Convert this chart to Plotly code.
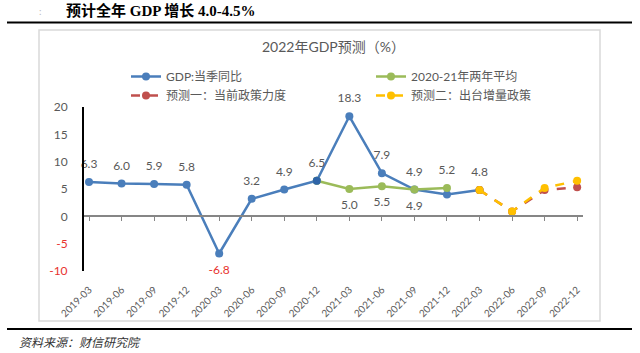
import plotly.graph_objects as go

categories = ["2019-03", "2019-06", "2019-09", "2019-12", "2020-03", "2020-06", "2020-09", "2020-12",
              "2021-03", "2021-06", "2021-09", "2021-12", "2022-03", "2022-06", "2022-09", "2022-12"]

gdp_x = categories[:13]
gdp_y = [6.3, 6.0, 5.9, 5.8, -6.8, 3.2, 4.9, 6.5, 18.3, 7.9, 4.9, 4.0, 4.8]
gdp_labels = ["6.3", "6.0", "5.9", "5.8", "-6.8", "3.2", "4.9", "6.5", "18.3", "7.9", "4.9", "", "4.8"]

avg_x = categories[7:12]
avg_y = [6.5, 5.0, 5.5, 4.9, 5.2]
avg_labels = ["", "5.0", "5.5", "4.9", "5.2"]

f1_x = categories[12:]
f1_y = [4.8, 0.9, 4.8, 5.3]

f2_x = categories[12:]
f2_y = [4.8, 0.9, 5.2, 6.5]

y_ticks = [20, 15, 10, 5, 0, -5, -10]

BLUE = "#4A7EBB"
DARKBLUE = "#2E64A8"
GREEN = "#9BBB59"
RED = "#C0504D"
YELLOW = "#FFC000"
GRAY = "#595959"
LABELRED = "#E8322E"
FONT = "Lato, Noto Sans CJK SC, sans-serif"

# plot area in pixels
W, H = 640, 353
L, R, T, B = 84, 583, 107, 271


def px(x):
    return (x - L) / (R - L)


def py(y):
    return (B - y) / (B - T)


fig = go.Figure()

fig.add_trace(go.Scatter(
    x=gdp_x, y=gdp_y, name="GDP:当季同比", mode="lines+markers",
    line=dict(color=BLUE, width=2.5), marker=dict(color=BLUE, size=8),
    hoverinfo="skip"))
fig.add_trace(go.Scatter(
    x=avg_x, y=avg_y, name="2020-21年两年平均", mode="lines+markers",
    line=dict(color=GREEN, width=2.5), marker=dict(color=GREEN, size=8),
    hoverinfo="skip"))
# the joining point (2020-12) is drawn in dark blue
fig.add_trace(go.Scatter(
    x=avg_x[:1], y=avg_y[:1], mode="markers", marker=dict(color=DARKBLUE, size=8),
    showlegend=False, hoverinfo="skip"))
fig.add_trace(go.Scatter(
    x=f1_x, y=f1_y, name="预测一：当前政策力度", mode="lines+markers",
    line=dict(color=RED, width=2.5, dash="dash"), marker=dict(color=RED, size=8),
    hoverinfo="skip"))
fig.add_trace(go.Scatter(
    x=f2_x, y=f2_y, name="预测二：出台增量政策", mode="lines+markers",
    line=dict(color=YELLOW, width=2.5, dash="dash"), marker=dict(color=YELLOW, size=8),
    hoverinfo="skip"))

# data labels
fig.add_trace(go.Scatter(
    x=gdp_x, y=gdp_y, mode="markers+text", text=gdp_labels, cliponaxis=False,
    textposition=["bottom center" if v < 0 else "top center" for v in gdp_y],
    textfont=dict(family=FONT, size=12, color=[LABELRED if v < 0 else GRAY for v in gdp_y]),
    marker=dict(size=16, color="rgba(0,0,0,0)"), showlegend=False, hoverinfo="skip"))
fig.add_trace(go.Scatter(
    x=avg_x, y=avg_y, mode="markers+text", text=avg_labels, cliponaxis=False,
    textposition=["bottom center", "bottom center", "bottom center", "bottom center", "top center"],
    textfont=dict(family=FONT, size=12, color=GRAY),
    marker=dict(size=16, color="rgba(0,0,0,0)"), showlegend=False, hoverinfo="skip"))

# helper trace for the zero-line axis with tick marks
fig.add_trace(go.Scatter(x=categories, y=[None] * len(categories), xaxis="x2",
                         showlegend=False, hoverinfo="skip", mode="lines"))

rng = [-0.154, 15.18]

ticktext = [f"<span style='color:{LABELRED}'>{v}</span>" if v < 0 else str(v) for v in y_ticks]

fig.update_layout(
    width=W, height=H,
    margin=dict(l=L, r=W - R, t=T, b=H - B),
    paper_bgcolor="white", plot_bgcolor="white",
    font=dict(family=FONT, color=GRAY, size=12),
    title=dict(text="2022年GDP预测（%）", x=320 / W, xanchor="center", xref="paper",
               y=1 - 47 / H, yref="container", yanchor="middle",
               font=dict(family=FONT, size=14, color=GRAY)),
    xaxis=dict(type="category", categoryorder="array", categoryarray=categories, range=rng,
               showline=False, showgrid=False, zeroline=False, ticks="",
               tickangle=-45, tickfont=dict(size=10, color=GRAY), ticklabelstandoff=10),
    xaxis2=dict(type="category", categoryorder="array", categoryarray=categories, range=rng,
                overlaying="x", anchor="free", position=1 / 3, side="bottom",
                showline=True, linecolor="#868686", linewidth=1.5,
                ticks="outside", ticklen=4, tickcolor="#868686", tickwidth=1.2,
                showticklabels=False, showgrid=False, zeroline=False),
    yaxis=dict(range=[-10, 20], tickvals=y_ticks, ticktext=ticktext,
               showline=True, linecolor="black", linewidth=2, ticks="",
               showgrid=False, zeroline=False, tickfont=dict(size=12, color=GRAY),
               ticklabelstandoff=12),
    legend=dict(orientation="h", x=px(126), y=py(62), xanchor="left", yanchor="top",
                entrywidth=200, entrywidthmode="pixels", tracegroupgap=0,
                font=dict(family=FONT, size=12, color=GRAY), bgcolor="rgba(0,0,0,0)"),
    showlegend=True,
)

# decorations: chart box, rule lines
fig.add_shape(type="rect", xref="paper", yref="paper", x0=px(39), x1=px(600), y0=py(321), y1=py(30),
              line=dict(color="#D9D9D9", width=1.5), layer="below")
fig.add_shape(type="line", xref="paper", yref="paper", x0=px(7), x1=px(632), y0=py(22.5), y1=py(22.5),
              line=dict(color="black", width=2))
fig.add_shape(type="line", xref="paper", yref="paper", x0=px(7), x1=px(632), y0=py(329), y1=py(329),
              line=dict(color="black", width=2))

fig.add_annotation(text="<b>预计全年 GDP 增长 4.0-4.5%</b>", xref="paper", yref="paper",
                   x=px(64), y=py(11), xanchor="left", yanchor="middle", showarrow=False,
                   font=dict(family="Liberation Serif, Noto Sans CJK SC, serif", size=15, color="black"))
fig.add_annotation(text=":", xref="paper", yref="paper",
                   x=px(40), y=py(11), xanchor="center", yanchor="middle", showarrow=False,
                   font=dict(family=FONT, size=10, color="#BBBBBB"))
fig.add_annotation(text="<i>资料来源：财信研究院</i>", xref="paper", yref="paper",
                   x=px(17), y=py(341), xanchor="left", yanchor="middle", showarrow=False,
                   font=dict(family="Noto Sans CJK SC, sans-serif", size=12, color="#333333"))

fig.write_html("out.html")
